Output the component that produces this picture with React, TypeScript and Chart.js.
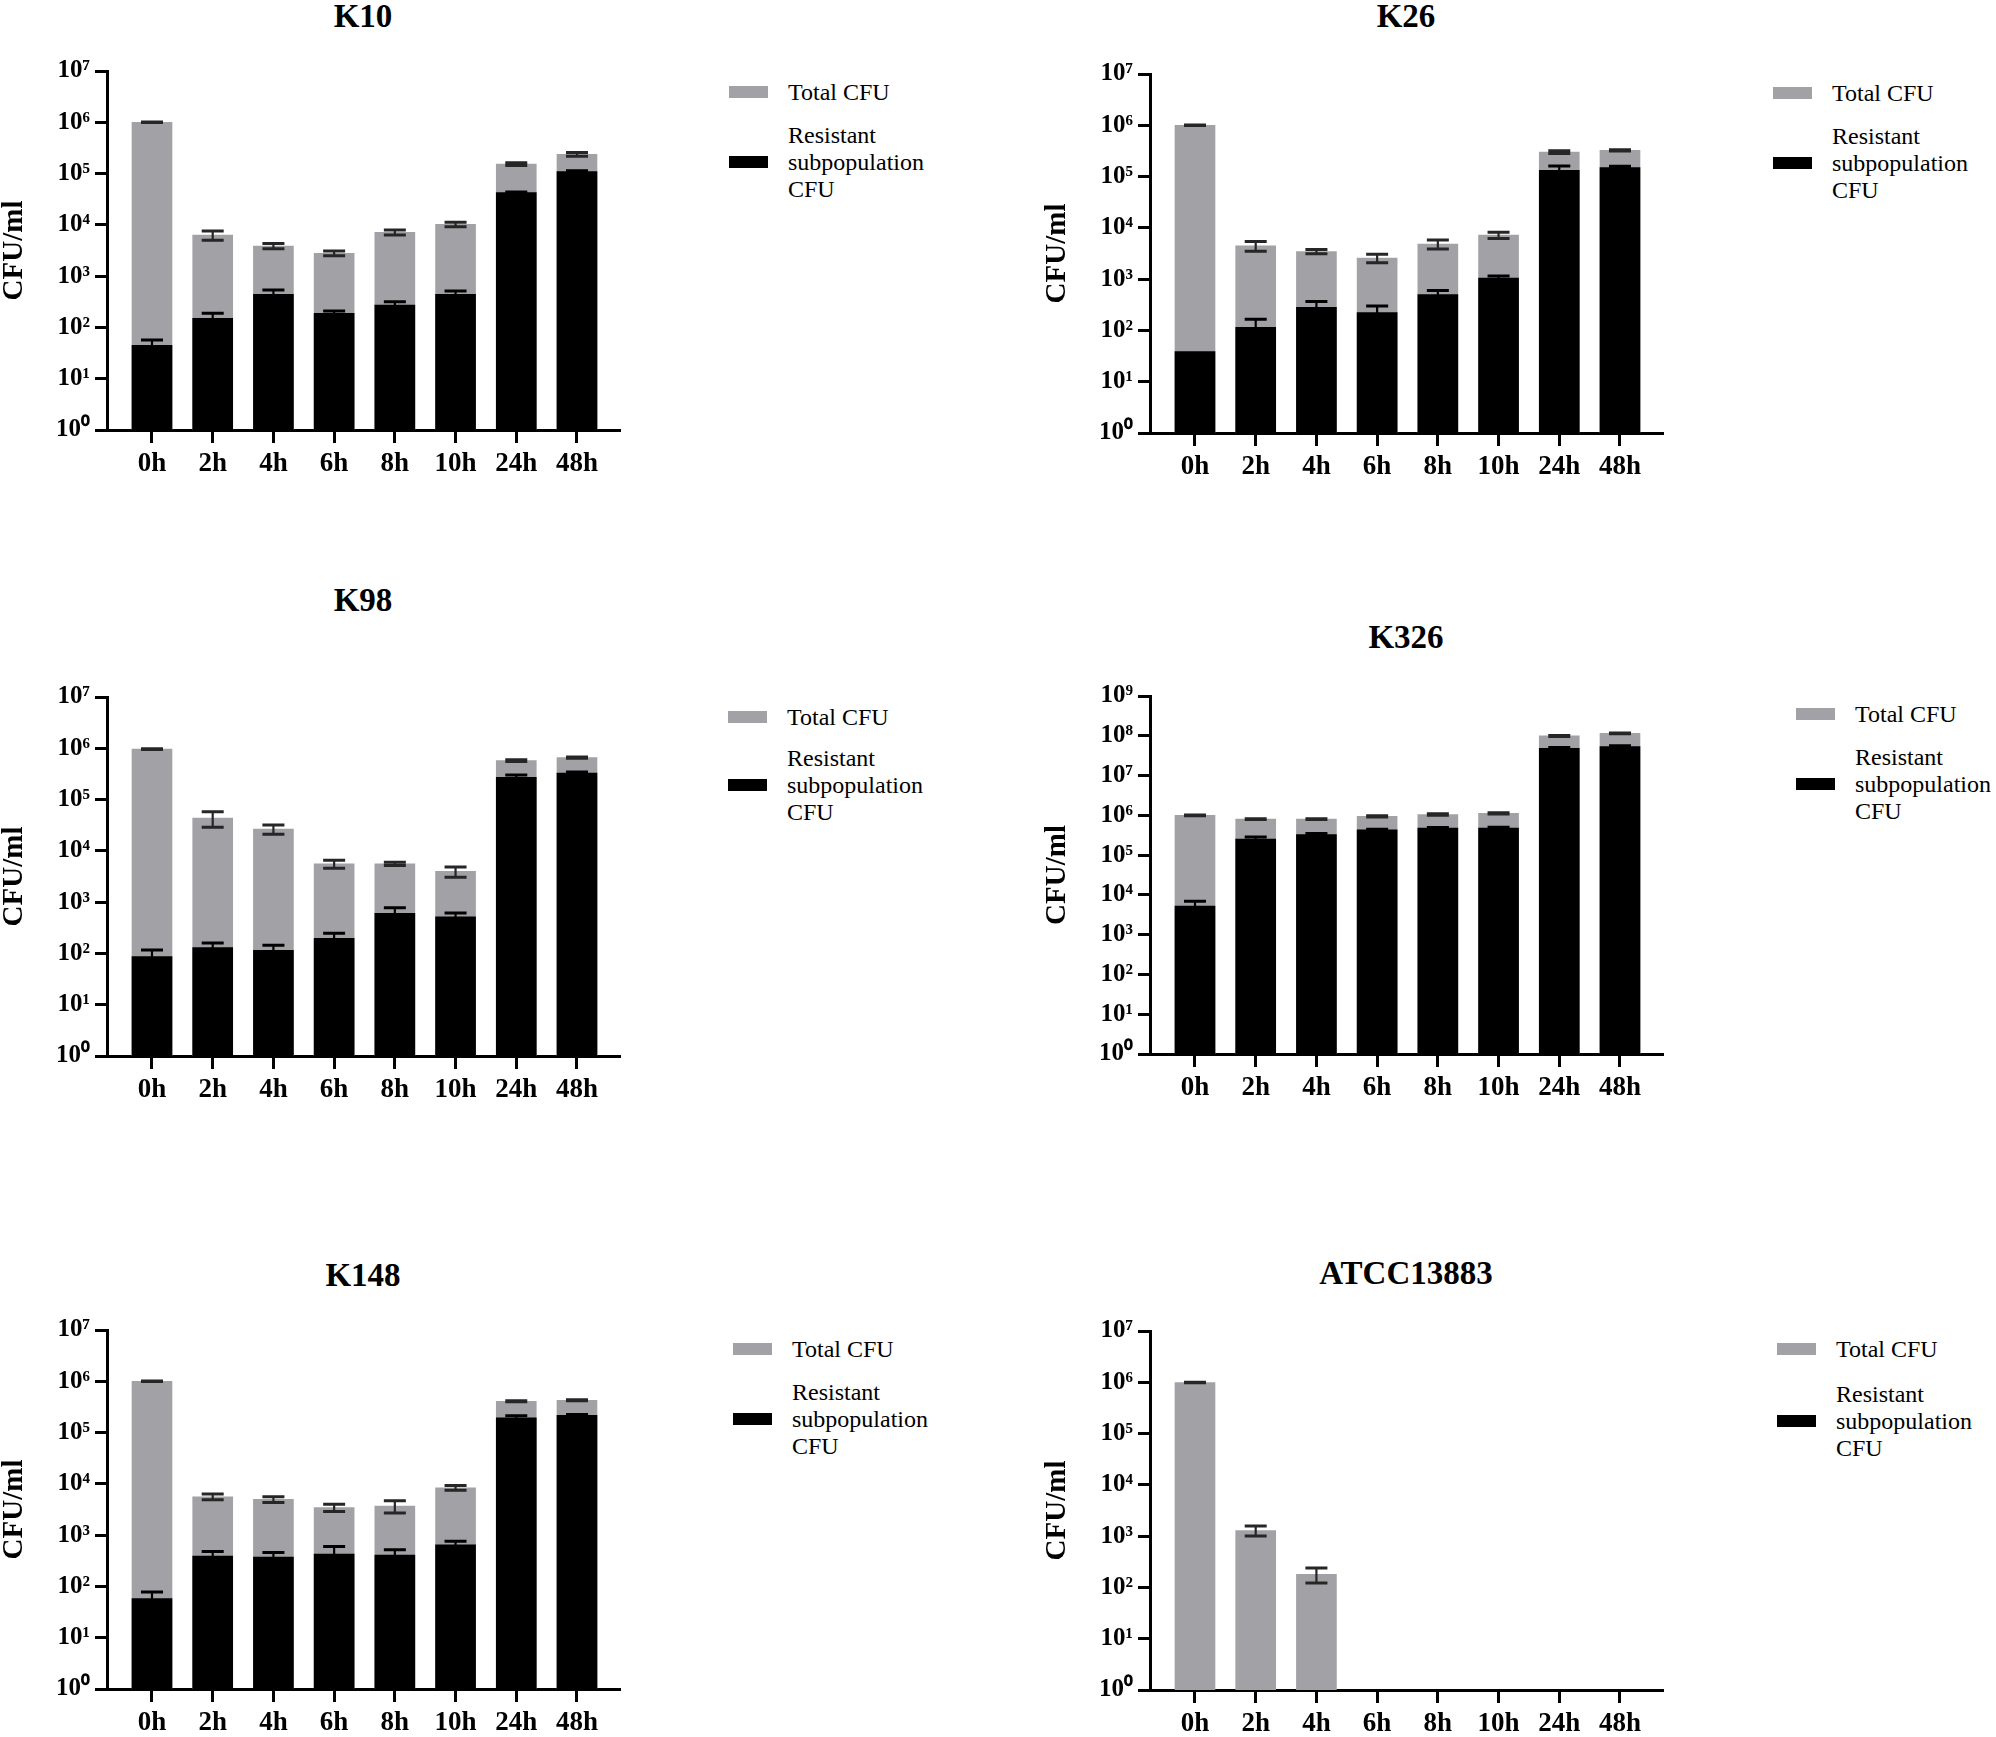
import React, { useEffect, useRef } from 'react';
import { Chart, registerables } from 'chart.js';

Chart.register(...registerables);

// ---------- data ----------
const timeLabels = ['0h', '2h', '4h', '6h', '8h', '10h', '24h', '48h'];

const k10Total = [1000000, 6300, 3870, 2790, 7150, 10200, 153000, 237000];
const k10TotalErr = [15000, 1300, 450, 300, 800, 1000, 10000, 20000];
const k10Resistant = [45, 151, 442, 188, 274, 442, 42400, 109000];
const k10ResistantErr = [12, 37, 95, 22, 44, 70, 1500, 4000];

const k26Total = [1000000, 4460, 3460, 2570, 4820, 7200, 300000, 324000];
const k26TotalErr = [15000, 950, 330, 480, 950, 1000, 17000, 8000];
const k26Resistant = [38.8, 115, 282, 222, 498, 1050, 132000, 149000];
const k26ResistantErr = [0, 50, 85, 78, 100, 100, 28000, 10000];

const k98Total = [960000, 43500, 26500, 5590, 5590, 3970, 575000, 660000];
const k98TotalErr = [15000, 14500, 5500, 1000, 400, 900, 25000, 20000];
const k98Resistant = [87, 130, 115, 198, 605, 518, 272000, 328000];
const k98ResistantErr = [30, 30, 30, 50, 170, 95, 30000, 15000];

const k326Total = [1000000, 805000, 805000, 940000, 1050000, 1120000, 99000000, 115000000];
const k326TotalErr = [20000, 15000, 15000, 30000, 40000, 40000, 3000000, 3000000];
const k326Resistant = [5220, 254000, 327000, 435000, 480000, 480000, 48500000, 53400000];
const k326ResistantErr = [1700, 30000, 20000, 15000, 15000, 20000, 2000000, 3000000];

const k148Total = [1000000, 5610, 4980, 3440, 3700, 8400, 408000, 427000];
const k148TotalErr = [15000, 700, 650, 550, 1000, 900, 8000, 10000];
const k148Resistant = [58, 391, 374, 428, 409, 649, 194000, 218000];
const k148ResistantErr = [20, 90, 85, 170, 110, 115, 20000, 8000];

const atccTotal = [990000, 1290, 180, null, null, null, null, null];
const atccTotalErr = [10000, 280, 58, 0, 0, 0, 0, 0];
const atccResistant = [null, null, null, null, null, null, null, null];
const atccResistantErr = [0, 0, 0, 0, 0, 0, 0, 0];

const legendTotalLabel = 'Total CFU';
const legendResistantLines = ['Resistant', 'subpopulation', 'CFU'];
const yTitle = 'CFU/ml';

// ---------- layout ----------
const TOTAL_COLOR = '#a2a2a6';
const RES_COLOR = '#000000';
const PLOT_W = 512;
const Y_BOX = 107;
const PAD_TOP = 30;
const PAD_RIGHT = 30;
const X_BOX = 60;
const X_MIN = -0.741;
const X_MAX = 7.692;

type Panel = {
  name: string;
  total: (number | null)[];
  totalErr: number[];
  resistant: (number | null)[];
  resistantErr: number[];
  maxExp: number;
  axisX: number;
  top: number;
  bottom: number;
  titleY: number;
  legDX: number;
  legTotalY: number;
  legResY: number;
};

const panels: Panel[] = [
  { name: 'K10', total: k10Total, totalErr: k10TotalErr, resistant: k10Resistant, resistantErr: k10ResistantErr, maxExp: 7, axisX: 107, top: 71, bottom: 430, titleY: 16, legDX: 622, legTotalY: 92, legResY: 162 },
  { name: 'K26', total: k26Total, totalErr: k26TotalErr, resistant: k26Resistant, resistantErr: k26ResistantErr, maxExp: 7, axisX: 1150, top: 74, bottom: 433, titleY: 16, legDX: 623, legTotalY: 93, legResY: 163 },
  { name: 'K98', total: k98Total, totalErr: k98TotalErr, resistant: k98Resistant, resistantErr: k98ResistantErr, maxExp: 7, axisX: 107, top: 697, bottom: 1056, titleY: 600, legDX: 621, legTotalY: 717, legResY: 785 },
  { name: 'K326', total: k326Total, totalErr: k326TotalErr, resistant: k326Resistant, resistantErr: k326ResistantErr, maxExp: 9, axisX: 1150, top: 696, bottom: 1054, titleY: 637, legDX: 646, legTotalY: 714, legResY: 784 },
  { name: 'K148', total: k148Total, totalErr: k148TotalErr, resistant: k148Resistant, resistantErr: k148ResistantErr, maxExp: 7, axisX: 107, top: 1330, bottom: 1689, titleY: 1275, legDX: 626, legTotalY: 1349, legResY: 1419 },
  { name: 'ATCC13883', total: atccTotal, totalErr: atccTotalErr, resistant: atccResistant, resistantErr: atccResistantErr, maxExp: 7, axisX: 1150, top: 1331, bottom: 1690, titleY: 1273, legDX: 627, legTotalY: 1349, legResY: 1421 },
];

const SUP: Record<string, string> = {
  '0': '\u2070', '1': '\u00B9', '2': '\u00B2', '3': '\u00B3', '4': '\u2074',
  '5': '\u2075', '6': '\u2076', '7': '\u2077', '8': '\u2078', '9': '\u2079',
};
const sup = (n: number) => String(n).split('').map((d) => SUP[d] || d).join('');

const errorBarPlugin = {
  id: 'errorBars',
  afterDatasetsDraw(chart: any) {
    const { ctx } = chart;
    const x = chart.scales.x;
    const y = chart.scales.y;
    const order = [1, 0];
    order.forEach((di) => {
      const ds: any = chart.data.datasets[di];
      if (!ds || !ds.errors) return;
      ctx.save();
      ctx.strokeStyle = ds.errorColor;
      ds.data.forEach((pt: any, i: number) => {
        const v = pt.y;
        const e = ds.errors[i];
        if (v == null || !e) return;
        const px = x.getPixelForValue(pt.x);
        const topPx = y.getPixelForValue(v + e);
        const lo = Math.max(v - e, y.min);
        const botPx = y.getPixelForValue(lo);
        const half = 11;
        ctx.lineWidth = 2.2;
        ctx.beginPath();
        ctx.moveTo(px, topPx);
        ctx.lineTo(px, botPx);
        ctx.stroke();
        ctx.lineWidth = 3;
        ctx.beginPath();
        ctx.moveTo(px - half, topPx);
        ctx.lineTo(px + half, topPx);
        ctx.moveTo(px - half, botPx);
        ctx.lineTo(px + half, botPx);
        ctx.stroke();
      });
      ctx.restore();
    });
  },
};

function ChartPanel({ p }: { p: Panel }) {
  const ref = useRef<HTMLCanvasElement | null>(null);
  const width = Y_BOX + PLOT_W + PAD_RIGHT;
  const height = PAD_TOP + (p.bottom - p.top) + X_BOX;
  const left = p.axisX - Y_BOX;
  const top = p.top - PAD_TOP;

  useEffect(() => {
    if (!ref.current) return;
    const exps: number[] = [];
    for (let e = 0; e <= p.maxExp; e++) exps.push(e);
    const chart = new Chart(ref.current, {
      type: 'bar',
      data: {
        datasets: [
          {
            label: legendTotalLabel,
            data: p.total.map((v, i) => ({ x: i, y: v })),
            backgroundColor: TOTAL_COLOR,
            borderWidth: 0,
            grouped: false,
            barThickness: 40,
            order: 2,
            errors: p.totalErr,
            errorColor: '#262626',
          } as any,
          {
            label: legendResistantLines.join(' '),
            data: p.resistant.map((v, i) => ({ x: i, y: v })),
            backgroundColor: RES_COLOR,
            borderWidth: 0,
            grouped: false,
            barThickness: 40,
            order: 1,
            errors: p.resistantErr,
            errorColor: '#000000',
          } as any,
        ],
      },
      options: {
        responsive: false,
        animation: false,
        devicePixelRatio: 1,
        layout: { padding: { top: PAD_TOP, right: PAD_RIGHT, left: 0, bottom: 0 } },
        plugins: { legend: { display: false }, tooltip: { enabled: false }, title: { display: false } },
        scales: {
          x: {
            type: 'linear',
            min: X_MIN,
            max: X_MAX,
            offset: false,
            afterBuildTicks: (s: any) => {
              s.ticks = timeLabels.map((_, i) => ({ value: i }));
            },
            afterFit: (s: any) => {
              s.height = X_BOX;
            },
            ticks: {
              autoSkip: false,
              maxRotation: 0,
              padding: 5,
              color: '#000',
              font: { family: 'Liberation Serif', weight: 'bold', size: 27 },
              callback: (_v: any, i: number) => timeLabels[i],
            },
            grid: {
              display: true,
              offset: false,
              drawOnChartArea: false,
              drawTicks: true,
              tickLength: 13,
              lineWidth: 3,
              color: '#000',
            },
            border: { display: true, width: 3, color: '#000' },
          } as any,
          y: {
            type: 'logarithmic',
            min: 1,
            max: Math.pow(10, p.maxExp),
            afterBuildTicks: (s: any) => {
              s.ticks = exps.map((e) => ({ value: Math.pow(10, e) }));
            },
            afterFit: (s: any) => {
              s.width = Y_BOX;
            },
            ticks: {
              autoSkip: false,
              padding: 5,
              color: '#000',
              font: { family: 'Liberation Serif', weight: 'bold', size: 25 },
              callback: (v: any) => '10' + sup(Math.round(Math.log10(Number(v)))),
            },
            grid: {
              display: true,
              drawOnChartArea: false,
              drawTicks: true,
              tickLength: 12,
              lineWidth: 3,
              color: '#000',
            },
            border: { display: true, width: 3, color: '#000' },
            title: {
              display: true,
              text: yTitle,
              color: '#000',
              padding: 0,
              font: { family: 'Liberation Serif', weight: 'bold', size: 29, lineHeight: 1 },
            },
          } as any,
        },
      },
      plugins: [errorBarPlugin],
    } as any);
    return () => chart.destroy();
  }, [p]);

  const legLeft = p.axisX + p.legDX;
  const textLeft = legLeft + 59;
  const textStyle: React.CSSProperties = {
    position: 'absolute',
    left: textLeft,
    fontFamily: '"Liberation Serif", serif',
    fontSize: 24,
    lineHeight: '27px',
    color: '#000',
    whiteSpace: 'nowrap',
  };

  return (
    <>
      <canvas
        ref={ref}
        width={width}
        height={height}
        style={{ position: 'absolute', left, top, width, height }}
      />
      <div
        style={{
          position: 'absolute',
          left: p.axisX + PLOT_W / 2,
          top: p.titleY,
          transform: 'translate(-50%, -50%)',
          fontFamily: '"Liberation Serif", serif',
          fontWeight: 'bold',
          fontSize: 33,
          lineHeight: '36px',
          whiteSpace: 'nowrap',
          color: '#000',
        }}
      >
        {p.name}
      </div>
      <div style={{ position: 'absolute', left: legLeft, top: p.legTotalY - 6, width: 39, height: 12, background: TOTAL_COLOR }} />
      <div style={{ ...textStyle, top: p.legTotalY - 13.5 }}>{legendTotalLabel}</div>
      <div style={{ position: 'absolute', left: legLeft, top: p.legResY - 6, width: 39, height: 12, background: RES_COLOR }} />
      <div style={{ ...textStyle, top: p.legResY - 13.5 - 27 }}>
        {legendResistantLines.map((l, i) => (
          <div key={i}>{l}</div>
        ))}
      </div>
    </>
  );
}

export default function App() {
  return (
    <div
      style={{
        position: 'absolute',
        left: 0,
        top: 0,
        width: 1996,
        height: 1737,
        background: '#fff',
        overflow: 'hidden',
      }}
    >
      {panels.map((p) => (
        <ChartPanel key={p.name} p={p} />
      ))}
    </div>
  );
}
